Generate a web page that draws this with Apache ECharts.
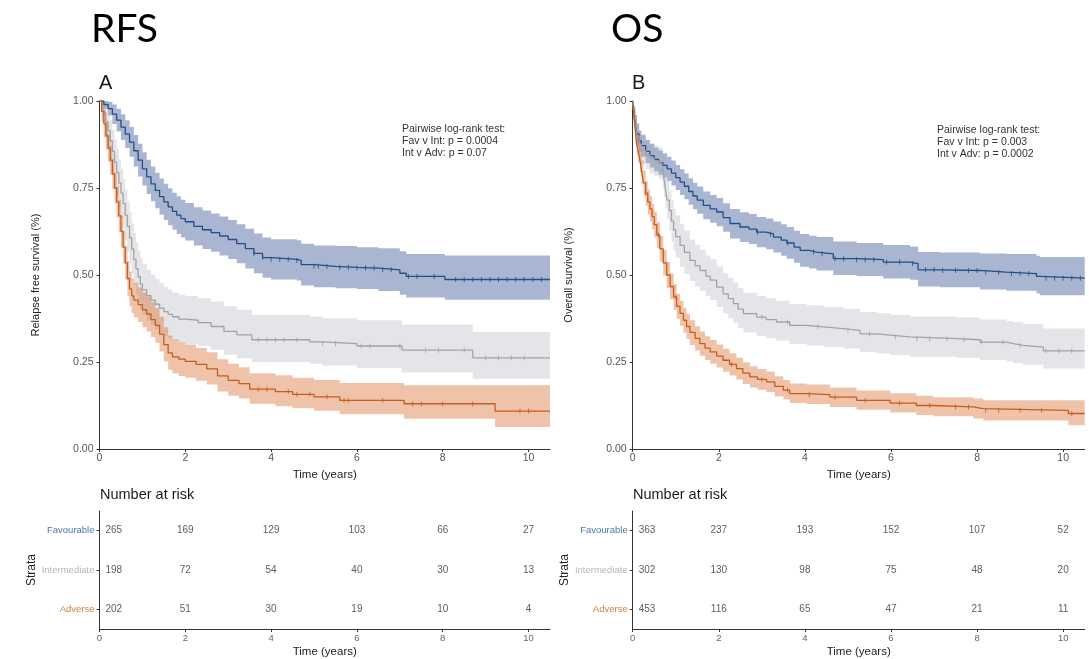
<!DOCTYPE html>
<html>
<head>
<meta charset="utf-8">
<script src="https://cdn.jsdelivr.net/npm/echarts@6/dist/echarts.min.js"></script>
<style>
  html, body { margin: 0; padding: 0; background: #fff; }
  #main { width: 1089px; height: 659px; }
</style>
</head>
<body>
<div id="main"></div>
<script>
// ---- RFS (panel A) ----
const rfsFavT  = [0, 0.1, 0.2, 0.3, 0.4, 0.5, 0.6, 0.7, 0.8, 0.9, 1.0, 1.1, 1.2, 1.3, 1.4, 1.5, 1.6, 1.7, 1.8, 1.9, 2.0, 2.2, 2.4, 2.6, 2.8, 3.0, 3.2, 3.4, 3.6, 3.8, 4.0, 4.6, 4.7, 5.0, 5.5, 6.0, 6.5, 7.0, 7.15, 8.05, 10.5];
const rfsFavS  = [1, 0.99, 0.978, 0.962, 0.945, 0.925, 0.905, 0.882, 0.857, 0.83, 0.805, 0.782, 0.762, 0.743, 0.725, 0.71, 0.696, 0.683, 0.672, 0.662, 0.653, 0.64, 0.63, 0.622, 0.612, 0.602, 0.59, 0.576, 0.562, 0.55, 0.545, 0.542, 0.53, 0.525, 0.522, 0.52, 0.515, 0.505, 0.496, 0.487, 0.487];
const rfsFavHi = [1, 1, 0.998, 0.99, 0.978, 0.962, 0.945, 0.925, 0.902, 0.877, 0.853, 0.831, 0.812, 0.794, 0.777, 0.762, 0.749, 0.736, 0.726, 0.716, 0.707, 0.695, 0.685, 0.677, 0.668, 0.658, 0.646, 0.633, 0.619, 0.608, 0.603, 0.6, 0.59, 0.585, 0.583, 0.58, 0.577, 0.568, 0.56, 0.556, 0.556];
const rfsFavLo = [1, 0.978, 0.958, 0.934, 0.912, 0.888, 0.865, 0.84, 0.812, 0.783, 0.757, 0.733, 0.712, 0.692, 0.673, 0.658, 0.643, 0.63, 0.618, 0.608, 0.599, 0.585, 0.575, 0.567, 0.556, 0.546, 0.534, 0.519, 0.505, 0.492, 0.487, 0.484, 0.47, 0.465, 0.462, 0.46, 0.454, 0.443, 0.435, 0.429, 0.429];
const rfsFavCens = [3.6, 3.8, 4.0, 4.2, 4.4, 4.6, 5.0, 5.1, 5.3, 5.6, 5.8, 6.0, 6.2, 6.4, 6.6, 6.8, 7.2, 7.4, 7.8, 8.3, 8.5, 8.7, 8.9, 9.1, 9.3, 9.5, 9.7, 9.9, 10.1, 10.3];

const rfsIntT  = [0, 0.05, 0.1, 0.15, 0.2, 0.25, 0.3, 0.35, 0.4, 0.45, 0.5, 0.55, 0.6, 0.65, 0.7, 0.75, 0.8, 0.85, 0.9, 0.95, 1.0, 1.1, 1.2, 1.3, 1.4, 1.5, 1.6, 1.7, 1.85, 2.0, 2.3, 2.6, 2.9, 3.2, 3.55, 4.9, 5.2, 6.0, 7.05, 8.7, 10.5];
const rfsIntS  = [1, 0.985, 0.965, 0.94, 0.915, 0.885, 0.855, 0.825, 0.795, 0.765, 0.735, 0.705, 0.672, 0.64, 0.607, 0.575, 0.545, 0.518, 0.495, 0.474, 0.457, 0.441, 0.428, 0.416, 0.405, 0.395, 0.387, 0.38, 0.373, 0.37, 0.363, 0.352, 0.338, 0.328, 0.314, 0.308, 0.303, 0.296, 0.284, 0.262, 0.262];
const rfsIntHi = [1, 1, 1, 0.99, 0.97, 0.945, 0.918, 0.89, 0.862, 0.833, 0.805, 0.776, 0.744, 0.713, 0.68, 0.649, 0.62, 0.593, 0.57, 0.549, 0.532, 0.515, 0.501, 0.488, 0.477, 0.466, 0.458, 0.45, 0.443, 0.44, 0.433, 0.424, 0.41, 0.4, 0.386, 0.381, 0.376, 0.37, 0.358, 0.336, 0.336];
const rfsIntLo = [1, 0.955, 0.925, 0.89, 0.86, 0.825, 0.79, 0.758, 0.726, 0.695, 0.665, 0.634, 0.6, 0.567, 0.534, 0.502, 0.472, 0.445, 0.422, 0.401, 0.384, 0.369, 0.356, 0.345, 0.335, 0.325, 0.318, 0.311, 0.305, 0.302, 0.296, 0.285, 0.271, 0.261, 0.25, 0.245, 0.24, 0.233, 0.22, 0.202, 0.202];
const rfsIntCens = [3.7, 3.9, 4.1, 4.3, 4.6, 5.2, 5.5, 6.1, 6.3, 7.0, 7.6, 7.9, 8.5, 9.0, 9.3, 9.6, 9.9];

const rfsAdvT  = [0, 0.05, 0.1, 0.15, 0.2, 0.25, 0.3, 0.35, 0.4, 0.45, 0.5, 0.55, 0.6, 0.65, 0.7, 0.75, 0.8, 0.9, 1.0, 1.1, 1.2, 1.3, 1.4, 1.5, 1.6, 1.7, 1.85, 2.0, 2.25, 2.5, 2.75, 3.0, 3.25, 3.5, 4.1, 4.5, 5.0, 5.6, 7.1, 9.22, 10.5];
const rfsAdvS  = [1, 0.97, 0.935, 0.9, 0.865, 0.83, 0.79, 0.75, 0.71, 0.67, 0.625, 0.58, 0.535, 0.49, 0.46, 0.44, 0.428, 0.415, 0.4, 0.388, 0.372, 0.355, 0.33, 0.3, 0.276, 0.265, 0.258, 0.252, 0.243, 0.23, 0.21, 0.197, 0.188, 0.172, 0.165, 0.157, 0.15, 0.14, 0.13, 0.109, 0.109];
const rfsAdvHi = [1, 1, 0.975, 0.94, 0.905, 0.872, 0.833, 0.795, 0.755, 0.716, 0.672, 0.628, 0.584, 0.54, 0.51, 0.49, 0.478, 0.465, 0.45, 0.438, 0.422, 0.405, 0.38, 0.35, 0.326, 0.315, 0.307, 0.3, 0.29, 0.278, 0.258, 0.245, 0.235, 0.218, 0.212, 0.205, 0.198, 0.19, 0.183, 0.183, 0.183];
const rfsAdvLo = [1, 0.94, 0.895, 0.86, 0.825, 0.788, 0.747, 0.705, 0.665, 0.624, 0.578, 0.532, 0.486, 0.44, 0.41, 0.39, 0.378, 0.365, 0.35, 0.338, 0.322, 0.305, 0.28, 0.252, 0.228, 0.217, 0.21, 0.205, 0.196, 0.185, 0.165, 0.153, 0.145, 0.13, 0.123, 0.117, 0.11, 0.1, 0.087, 0.063, 0.063];
const rfsAdvCens = [3.7, 3.9, 4.4, 4.6, 4.9, 5.3, 5.7, 5.8, 6.6, 7.3, 7.5, 8.0, 8.7, 9.8, 10.0];

// ---- OS (panel B) ----
const osFavT  = [0, 0.03, 0.06, 0.1, 0.15, 0.2, 0.3, 0.4, 0.5, 0.6, 0.7, 0.8, 0.9, 1.0, 1.1, 1.2, 1.3, 1.4, 1.5, 1.64, 1.8, 1.95, 2.1, 2.26, 2.49, 2.7, 2.88, 3.1, 3.27, 3.45, 3.58, 3.75, 3.89, 4.1, 4.27, 4.66, 5.2, 5.82, 6.44, 6.63, 7.14, 8.07, 8.68, 9.38, 9.46, 10.5];
const osFavS  = [1, 0.96, 0.93, 0.905, 0.885, 0.872, 0.855, 0.843, 0.832, 0.823, 0.815, 0.805, 0.793, 0.78, 0.767, 0.755, 0.74, 0.727, 0.715, 0.7, 0.69, 0.681, 0.665, 0.648, 0.638, 0.632, 0.623, 0.618, 0.609, 0.6, 0.592, 0.58, 0.571, 0.566, 0.561, 0.547, 0.544, 0.537, 0.533, 0.515, 0.513, 0.508, 0.504, 0.496, 0.491, 0.491];
const osFavHi = [1, 0.985, 0.96, 0.935, 0.915, 0.903, 0.888, 0.877, 0.866, 0.858, 0.85, 0.84, 0.829, 0.816, 0.804, 0.792, 0.778, 0.765, 0.754, 0.74, 0.73, 0.721, 0.706, 0.69, 0.68, 0.675, 0.667, 0.662, 0.654, 0.646, 0.638, 0.627, 0.618, 0.613, 0.609, 0.596, 0.592, 0.586, 0.582, 0.566, 0.565, 0.562, 0.56, 0.555, 0.552, 0.552];
const osFavLo = [1, 0.935, 0.9, 0.875, 0.855, 0.84, 0.822, 0.809, 0.798, 0.788, 0.78, 0.77, 0.757, 0.744, 0.73, 0.718, 0.702, 0.689, 0.676, 0.66, 0.65, 0.64, 0.624, 0.605, 0.595, 0.589, 0.58, 0.574, 0.565, 0.555, 0.547, 0.535, 0.524, 0.519, 0.513, 0.5, 0.497, 0.49, 0.486, 0.467, 0.465, 0.458, 0.455, 0.447, 0.442, 0.442];
const osFavCens = [2.9, 3.2, 3.6, 4.2, 4.4, 4.7, 4.9, 5.2, 5.4, 5.6, 5.9, 6.2, 6.5, 6.8, 7.0, 7.2, 7.5, 7.8, 8.0, 8.2, 8.5, 8.8, 9.0, 9.2, 9.6, 9.8, 10.0, 10.2, 10.4];

const osIntT  = [0, 0.03, 0.06, 0.1, 0.15, 0.2, 0.3, 0.4, 0.5, 0.6, 0.67, 0.7, 0.73, 0.76, 0.8, 0.85, 0.9, 0.95, 1.0, 1.1, 1.2, 1.33, 1.45, 1.56, 1.7, 1.8, 1.95, 2.1, 2.22, 2.34, 2.45, 2.57, 2.88, 3.1, 3.34, 3.65, 4.04, 4.43, 4.89, 5.28, 5.67, 5.98, 6.44, 7.52, 8.07, 8.68, 8.84, 9.07, 9.54, 10.5];
const osIntS  = [1, 0.96, 0.93, 0.9, 0.875, 0.858, 0.845, 0.835, 0.828, 0.822, 0.818, 0.8, 0.775, 0.745, 0.715, 0.685, 0.655, 0.63, 0.61, 0.585, 0.565, 0.542, 0.527, 0.513, 0.497, 0.485, 0.465, 0.446, 0.432, 0.418, 0.402, 0.389, 0.379, 0.372, 0.365, 0.355, 0.351, 0.346, 0.341, 0.331, 0.327, 0.322, 0.317, 0.314, 0.307, 0.303, 0.298, 0.293, 0.282, 0.282];
const osIntHi = [1, 0.985, 0.96, 0.935, 0.913, 0.898, 0.887, 0.878, 0.872, 0.867, 0.864, 0.848, 0.826, 0.798, 0.77, 0.742, 0.714, 0.69, 0.672, 0.647, 0.627, 0.602, 0.587, 0.572, 0.556, 0.545, 0.525, 0.505, 0.492, 0.478, 0.462, 0.449, 0.44, 0.433, 0.426, 0.417, 0.413, 0.408, 0.403, 0.394, 0.39, 0.386, 0.381, 0.378, 0.372, 0.368, 0.364, 0.359, 0.346, 0.346];
const osIntLo = [1, 0.935, 0.9, 0.865, 0.837, 0.818, 0.803, 0.792, 0.784, 0.777, 0.772, 0.752, 0.724, 0.692, 0.66, 0.628, 0.596, 0.57, 0.55, 0.523, 0.503, 0.483, 0.468, 0.455, 0.44, 0.428, 0.408, 0.39, 0.376, 0.362, 0.347, 0.335, 0.325, 0.318, 0.312, 0.302, 0.298, 0.293, 0.289, 0.279, 0.275, 0.27, 0.265, 0.262, 0.256, 0.252, 0.247, 0.242, 0.231, 0.231];
const osIntCens = [3.0, 3.6, 4.3, 5.0, 5.5, 6.1, 6.6, 6.9, 7.3, 7.7, 8.1, 8.6, 9.0, 9.6, 9.9, 10.2];

const osAdvT  = [0, 0.03, 0.06, 0.09, 0.13, 0.17, 0.21, 0.25, 0.3, 0.35, 0.4, 0.45, 0.5, 0.56, 0.63, 0.71, 0.79, 0.87, 0.95, 1.02, 1.1, 1.18, 1.25, 1.33, 1.45, 1.56, 1.68, 1.8, 1.95, 2.1, 2.25, 2.41, 2.56, 2.72, 2.9, 3.11, 3.3, 3.5, 3.65, 4.04, 4.58, 5.2, 5.98, 6.59, 6.98, 7.91, 8.14, 10.12, 10.5];
const osAdvS  = [1, 0.955, 0.915, 0.877, 0.855, 0.829, 0.795, 0.765, 0.735, 0.71, 0.69, 0.668, 0.645, 0.615, 0.575, 0.535, 0.5, 0.467, 0.437, 0.41, 0.39, 0.37, 0.352, 0.335, 0.318, 0.303, 0.29, 0.279, 0.267, 0.255, 0.243, 0.231, 0.218, 0.207, 0.2, 0.193, 0.18, 0.169, 0.159, 0.156, 0.149, 0.14, 0.132, 0.125, 0.121, 0.116, 0.111, 0.102, 0.102];
const osAdvHi = [1, 0.975, 0.945, 0.91, 0.888, 0.862, 0.83, 0.8, 0.771, 0.746, 0.726, 0.704, 0.682, 0.652, 0.612, 0.572, 0.537, 0.504, 0.474, 0.446, 0.426, 0.406, 0.388, 0.37, 0.353, 0.338, 0.324, 0.313, 0.3, 0.288, 0.275, 0.262, 0.249, 0.238, 0.23, 0.223, 0.209, 0.198, 0.188, 0.185, 0.177, 0.168, 0.16, 0.153, 0.149, 0.145, 0.14, 0.14, 0.14];
const osAdvLo = [1, 0.935, 0.885, 0.844, 0.822, 0.796, 0.76, 0.73, 0.699, 0.674, 0.654, 0.632, 0.608, 0.578, 0.538, 0.498, 0.463, 0.43, 0.4, 0.374, 0.354, 0.334, 0.316, 0.299, 0.283, 0.268, 0.256, 0.245, 0.234, 0.222, 0.211, 0.2, 0.187, 0.177, 0.17, 0.164, 0.151, 0.142, 0.132, 0.129, 0.121, 0.113, 0.105, 0.098, 0.094, 0.088, 0.082, 0.068, 0.068];
const osAdvCens = [0.3, 0.6, 1.0, 2.3, 3.0, 3.6, 4.1, 4.7, 5.4, 6.2, 6.9, 7.5, 7.8, 8.2, 8.5, 9.0, 9.5, 10.2];

// ---- number at risk ----
const riskTimes = [0, 2, 4, 6, 8, 10];
const strata = ['Adverse', 'Intermediate', 'Favourable'];
const rfsRiskFav = [265, 169, 129, 103, 66, 27];
const rfsRiskInt = [198, 72, 54, 40, 30, 13];
const rfsRiskAdv = [202, 51, 30, 19, 10, 4];
const osRiskFav = [363, 237, 193, 152, 107, 52];
const osRiskInt = [302, 130, 98, 75, 48, 20];
const osRiskAdv = [453, 116, 65, 47, 21, 11];

const xTicks = [0, 2, 4, 6, 8, 10];

const FONT = '"Liberation Sans", Arial, sans-serif';
const col = {
    fav: { line: '#234f85', band: 'rgba(40,70,140,0.40)', lab: '#4a78a8' },
    int: { line: '#a3a3a3', band: 'rgba(165,170,180,0.30)', lab: '#b5b5b5' },
    adv: { line: '#c65d1e', band: 'rgba(215,105,40,0.40)', lab: '#d0803e' }
};

function zip(a, b) {
    return a.map((v, i) => [v, b[i]]);
}

function survAt(t, times, surv) {
    let k = 0;
    for (let i = 0; i < times.length; i++) {
        if (times[i] <= t) k = i;
    }
    return surv[k];
}

// CI band: one stepped polygon, drawn through the axes with api.coord
function bandSeries(grid, t, lo, hi, color) {
    return {
        type: 'custom', xAxisIndex: grid, yAxisIndex: grid, silent: true, z: 1,
        data: t.map((v, i) => [v, lo[i], hi[i]]),
        encode: { x: 0, y: [1, 2] },
        renderItem: (params, api) => {
            if (params.dataIndex !== 0) return null;
            const top = [], bot = [];
            for (let i = 0; i < t.length; i++) {
                const x1 = i < t.length - 1 ? t[i + 1] : t[i];
                top.push(api.coord([t[i], hi[i]]), api.coord([x1, hi[i]]));
                bot.push(api.coord([t[i], lo[i]]), api.coord([x1, lo[i]]));
            }
            return {
                type: 'polygon',
                shape: { points: top.concat(bot.reverse()) },
                style: { fill: color }
            };
        }
    };
}

function lineSeries(grid, t, s, c) {
    return {
        type: 'line', xAxisIndex: grid, yAxisIndex: grid,
        step: 'end', showSymbol: false, silent: true,
        lineStyle: { color: c.line, width: 1.3 }, z: 3,
        data: zip(t, s)
    };
}

function censSeries(grid, t, s, cens, c) {
    return {
        type: 'scatter', xAxisIndex: grid, yAxisIndex: grid, silent: true,
        symbol: 'rect', symbolSize: [1, 5],
        itemStyle: { color: c.line }, z: 4,
        data: cens.map(x => [x, survAt(x, t, s)])
    };
}

function riskSeries(grid, fav, int, adv) {
    const rows = [[adv, 'Adverse'], [int, 'Intermediate'], [fav, 'Favourable']];
    const data = [];
    rows.forEach(r => {
        riskTimes.forEach((x, i) => {
            data.push({
                value: [x, r[1]],
                label: x === 0 ? { align: 'left', offset: [6, 0] } : {},
                n: r[0][i]
            });
        });
    });
    return {
        type: 'scatter', xAxisIndex: grid, yAxisIndex: grid, silent: true,
        symbolSize: 0,
        label: {
            show: true, position: 'inside', color: '#333', fontSize: 10, fontFamily: FONT,
            formatter: p => String(p.data.n)
        },
        data: data
    };
}

const axisLineStyle = { show: true, onZero: false, lineStyle: { color: '#333', width: 1 } };
const tickStyle = { show: true, length: 3, lineStyle: { color: '#333' } };

function timeAxis(grid, labelSize, labelColor) {
    return {
        type: 'value', gridIndex: grid, min: 0, max: 10.5,
        name: 'Time (years)', nameLocation: 'middle', nameGap: 17,
        nameTextStyle: { fontSize: 11.5, color: '#222', fontFamily: FONT },
        axisLine: axisLineStyle,
        axisTick: Object.assign({ customValues: xTicks }, tickStyle),
        axisLabel: { customValues: xTicks, fontSize: labelSize, color: labelColor, margin: 4, fontFamily: FONT },
        splitLine: { show: false }
    };
}

function survY(grid, name) {
    return {
        type: 'value', gridIndex: grid, min: 0, max: 1, interval: 0.25,
        name: name, nameLocation: 'middle', nameGap: 58,
        nameTextStyle: { fontSize: 11, color: '#222', fontFamily: FONT },
        axisLine: axisLineStyle, axisTick: tickStyle,
        axisLabel: { fontSize: 10.5, color: '#555', margin: 6, fontFamily: FONT, formatter: v => v.toFixed(2) },
        splitLine: { show: false }
    };
}

function riskY(grid) {
    return {
        type: 'category', gridIndex: grid, data: strata,
        name: 'Strata', nameLocation: 'middle', nameGap: 58,
        nameTextStyle: { fontSize: 12, color: '#222', fontFamily: FONT },
        axisLine: axisLineStyle,
        axisTick: Object.assign({ alignWithLabel: true }, tickStyle),
        axisLabel: {
            fontSize: 9.5, margin: 5, fontFamily: FONT,
            formatter: v => '{' + v.slice(0, 3).toLowerCase() + '|' + v + '}',
            rich: {
                fav: { color: col.fav.lab, fontSize: 9.5, fontFamily: FONT },
                int: { color: col.int.lab, fontSize: 9.5, fontFamily: FONT },
                adv: { color: col.adv.lab, fontSize: 9.5, fontFamily: FONT }
            }
        },
        splitLine: { show: false }
    };
}

const textTitle = (text, left, top, size, extra) => ({
    text: text, left: left, top: top, padding: 0,
    textStyle: Object.assign({ fontSize: size, fontWeight: 'normal', color: '#1a1a1a', fontFamily: FONT }, extra || {})
});

const bigFont = { fontFamily: 'Lato, "Open Sans", sans-serif', color: '#000' };

const option = {
    animation: false,
    backgroundColor: '#fff',
    title: [
        textTitle('RFS', 91, 10, 39, bigFont),
        textTitle('OS', 611, 10, 39, bigFont),
        textTitle('A', 99, 73, 20),
        textTitle('B', 632, 73, 20),
        textTitle('Pairwise log-rank test:\nFav v Int: p = 0.0004\nInt v Adv: p = 0.07', 402, 123, 10.5, { lineHeight: 12, color: '#333' }),
        textTitle('Pairwise log-rank test:\nFav v Int: p = 0.003\nInt v Adv: p = 0.0002', 937, 124, 10.5, { lineHeight: 12, color: '#333' }),
        textTitle('Number at risk', 100, 487, 14.5),
        textTitle('Number at risk', 633, 487, 14.5)
    ],
    grid: [
        { left: 99.5, top: 101, width: 450.5, height: 348 },
        { left: 632.7, top: 101, width: 452, height: 348 },
        { left: 99.5, top: 511, width: 450.5, height: 118.3 },
        { left: 632.7, top: 511, width: 452, height: 118.3 }
    ],
    xAxis: [
        timeAxis(0, 10.5, '#555'),
        timeAxis(1, 10.5, '#555'),
        timeAxis(2, 9.5, '#666'),
        timeAxis(3, 9.5, '#666')
    ],
    yAxis: [
        survY(0, 'Relapse free survival (%)'),
        survY(1, 'Overall survival (%)'),
        riskY(2),
        riskY(3)
    ],
    series: [
        bandSeries(0, rfsFavT, rfsFavLo, rfsFavHi, col.fav.band),
        bandSeries(0, rfsIntT, rfsIntLo, rfsIntHi, col.int.band),
        bandSeries(0, rfsAdvT, rfsAdvLo, rfsAdvHi, col.adv.band),
        lineSeries(0, rfsFavT, rfsFavS, col.fav),
        lineSeries(0, rfsIntT, rfsIntS, col.int),
        lineSeries(0, rfsAdvT, rfsAdvS, col.adv),
        censSeries(0, rfsFavT, rfsFavS, rfsFavCens, col.fav),
        censSeries(0, rfsIntT, rfsIntS, rfsIntCens, col.int),
        censSeries(0, rfsAdvT, rfsAdvS, rfsAdvCens, col.adv),

        bandSeries(1, osFavT, osFavLo, osFavHi, col.fav.band),
        bandSeries(1, osIntT, osIntLo, osIntHi, col.int.band),
        bandSeries(1, osAdvT, osAdvLo, osAdvHi, col.adv.band),
        lineSeries(1, osFavT, osFavS, col.fav),
        lineSeries(1, osIntT, osIntS, col.int),
        lineSeries(1, osAdvT, osAdvS, col.adv),
        censSeries(1, osFavT, osFavS, osFavCens, col.fav),
        censSeries(1, osIntT, osIntS, osIntCens, col.int),
        censSeries(1, osAdvT, osAdvS, osAdvCens, col.adv),

        riskSeries(2, rfsRiskFav, rfsRiskInt, rfsRiskAdv),
        riskSeries(3, osRiskFav, osRiskInt, osRiskAdv)
    ]
};

const chart = echarts.init(document.getElementById('main'), null, { renderer: 'canvas' });
chart.setOption(option);
</script>
</body>
</html>
